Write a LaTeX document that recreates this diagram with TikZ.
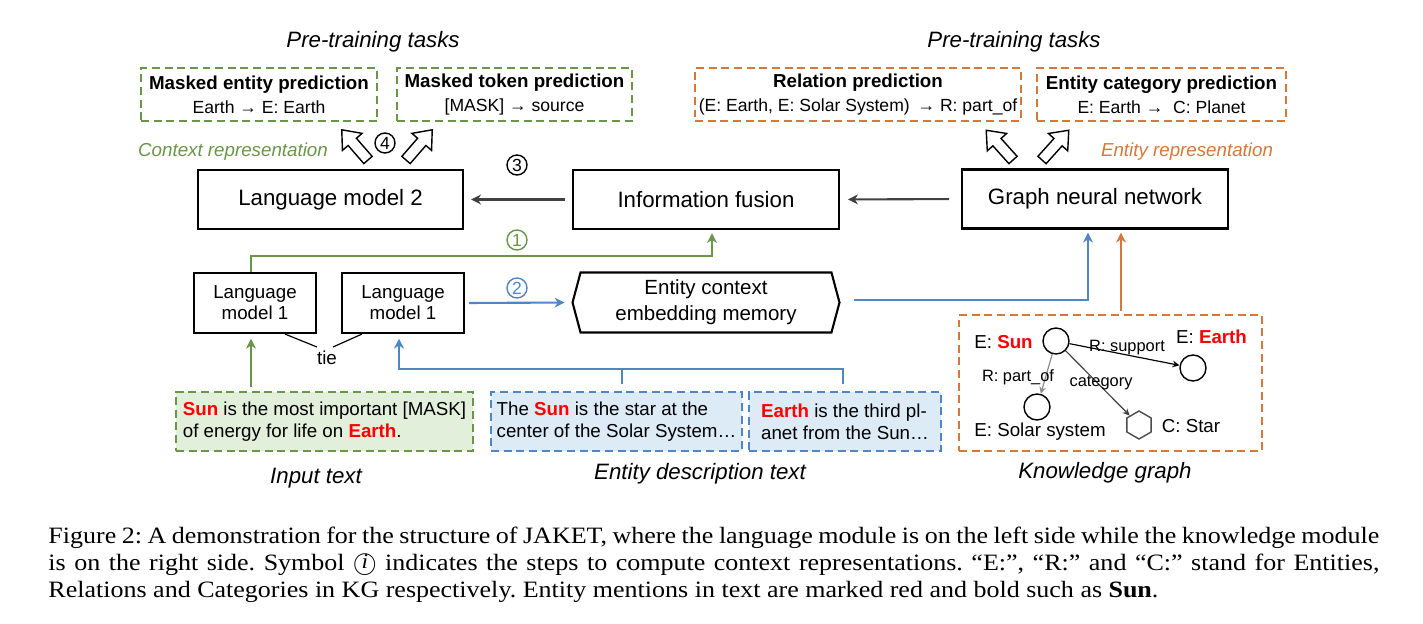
\documentclass[tikz,border=0pt]{standalone}
\usepackage{fontspec}
\setmainfont{Liberation Serif}
\setsansfont{Liberation Sans}
\newfontfamily\capfont{Liberation Serif}[FakeStretch=1.11]
\usetikzlibrary{calc}
\usetikzlibrary{arrows.meta}
\usetikzlibrary{shapes.geometric}
\definecolor{ctxgreen}{RGB}{106,150,72}
\definecolor{entblue}{RGB}{80,135,195}
\definecolor{kgorange}{RGB}{213,121,59}
\definecolor{inputfill}{RGB}{226,239,218}
\definecolor{descfill}{RGB}{221,235,247}
\definecolor{entred}{RGB}{255,0,0}
\definecolor{flowgray}{RGB}{64,64,64}
\newcommand{\PX}{0.015cm}
\newcommand{\Ent}[1]{\textcolor{entred}{\textbf{#1}}}
\newcommand{\BlockArrow}[3]{ % base x, base y, direction
\draw[line width=.6pt, fill=white, rotate around={#3:(#1,#2)}]
  (#1,#2) ++(0,-5.5) -- ++(24,0) -- ++(0,-7.5) -- ++(16,13) -- ++(-16,13) -- ++(0,-7.5) -- ++(-24,0) -- cycle;
}
\newcommand{\StepSymbol}{\ooalign{{\normalsize$\bigcirc$}\cr\hidewidth\raisebox{.2ex}{\small\itshape i}\hidewidth\cr}}

\begin{document}
\begin{tikzpicture}[x=\PX, y=-\PX, font=\sffamily,
>={Stealth[length=4.2pt,width=4.2pt,inset=1.3pt]},
model/.style={draw, line width=.9pt, inner sep=0, align=center, font=\sffamily\fontsize{9.5}{11.4}\selectfont, minimum width=266*\PX, minimum height=59*\PX},
smallmodel/.style={model, font=\sffamily\fontsize{8}{9}\selectfont, minimum width=122*\PX, minimum height=60*\PX},
task/.style={dash pattern=on 3.4pt off 2pt, line width=.7pt, inner sep=0, align=center, font=\sffamily\fontsize{8}{10.2}\selectfont, minimum height=53*\PX},
greentask/.style={task, draw=ctxgreen},
orangetask/.style={task, draw=kgorange},
textbox/.style={dash pattern=on 3.4pt off 2pt, line width=.7pt, inner sep=0, align=left, font=\sffamily\fontsize{8}{9.4}\selectfont, minimum height=59*\PX},
inputbox/.style={textbox, draw=ctxgreen, fill=inputfill},
descbox/.style={textbox, draw=entblue, fill=descfill},
tasktitle/.style={font=\sffamily\itshape\fontsize{9.5}{11.4}\selectfont},
reptext/.style={font=\sffamily\itshape\fontsize{8}{9.6}\selectfont},
stepnum/.style={circle, draw, line width=.6pt, inner sep=0, minimum size=20*\PX, font=\sffamily\fontsize{7.5}{9}\selectfont},
flow/.style={->, line width=.9pt, shorten <=1.7pt, shorten >=1.7pt},
entity/.style={circle, draw, line width=.6pt, inner sep=0, minimum size=26*\PX},
category/.style={regular polygon, regular polygon sides=6, shape border rotate=30, draw=black!70, line width=.6pt, inner sep=0, minimum size=28*\PX},
kglabel/.style={inner sep=0, font=\sffamily\fontsize{8}{9.6}\selectfont},
rellabel/.style={inner sep=0, font=\sffamily\fontsize{7}{8.4}\selectfont},
kgedge/.style={->, >={Stealth[length=3pt,width=2.8pt]}, line width=.5pt},
]
\useasboundingbox (0,0) rectangle (1423,624);
\fill[white] (0,0) rectangle (1423,624);

%%%%%%%%%%%%%%%%%%%%%%%% PRE-TRAINING TASKS %%%%%%%%%%%%%%%%%%%%%%%%%%%
\node[tasktitle] (TasksL) at (373,42) {Pre-training tasks};
\node[tasktitle] (TasksR) at (1014,42) {Pre-training tasks};
\node[greentask, minimum width=236*\PX] (MEP) at (259,94.5) {\textbf{Masked entity prediction}\\{\fontsize{7.5}{10.2}\selectfont Earth → E: Earth}};
\node[greentask, minimum width=235*\PX] (MTP) at (514.5,94.5) {\textbf{Masked token prediction}\\{\fontsize{7.5}{10.2}\selectfont [MASK] → source}};
\node[orangetask, minimum width=326*\PX] (RP) at (858,94.5) {\textbf{Relation prediction}\\{\fontsize{7.5}{10.2}\selectfont (E: Earth, E: Solar System) \,→ R: part\_of}};
\node[orangetask, minimum width=249*\PX] (ECP) at (1161.5,94.5) {\textbf{Entity category prediction}\\{\fontsize{7.5}{10.2}\selectfont E: Earth~→~~C: Planet}};

\BlockArrow{368}{160}{131}
\BlockArrow{406}{160}{49}
\BlockArrow{1013}{160}{132}
\BlockArrow{1042}{160}{48}

\node[reptext, text=ctxgreen] (CtxRep) at (233,152) {Context representation};
\node[reptext, text=kgorange] (EntRep) at (1187,152) {Entity representation};

%%%%%%%%%%%%%%%%%%%%%%%% MODELS %%%%%%%%%%%%%%%%%%%%%%%%%%%
\node[model, minimum width=265*\PX] (LM2) at (330.5,199.5) {Language model 2};
\node[model] (Fusion) at (706,199.5) {Information fusion};
\node[model] (GNN) at (1095,199) {Graph neural network};
\node[smallmodel] (LMa) at (255,303) {Language\\model 1};
\node[smallmodel] (LMb) at (403,303) {Language\\model 1};
\node[inner sep=0, align=center, minimum width=266*\PX, minimum height=59*\PX, font=\sffamily\fontsize{8.75}{11.1}\selectfont] (Memory) at (706,302.5) {Entity context\\embedding memory};
\draw[line width=.9pt] (Memory.west) -- ($(Memory.north west)+(8,0)$) -- ($(Memory.north east)+(-8,0)$) -- (Memory.east) -- ($(Memory.south east)+(-8,0)$) -- ($(Memory.south west)+(8,0)$) -- cycle;

\node[stepnum] (Step4) at (385,143) {4};
\node[stepnum] (Step3) at (517,165) {3};
\node[stepnum, draw=ctxgreen, text=ctxgreen] (Step1) at (517,240) {1};
\node[stepnum, draw=entblue, text=entblue] (Step2) at (517,288) {2};

\draw[flow, flowgray, shorten <=5pt, shorten >=3.4pt] (GNN.west) -- (Fusion.east);
\draw[flow, flowgray, shorten <=3pt, shorten >=3pt] (Fusion.west) -- (LM2.east);

%%%%%%%%%%%%%%%%%%%%%%%% TEXTS %%%%%%%%%%%%%%%%%%%%%%%%%%%
\node[inputbox, minimum width=297*\PX] (InText) at (324.5,421.5) {\Ent{Sun} is the most important [MASK]\\of energy for life on \Ent{Earth}.};
\node[descbox, minimum width=251*\PX] (DescA) at (616.5,421.5) {The \Ent{Sun} is the star at the\\center of the Solar System…};
\node[descbox, minimum width=192*\PX] (DescB) at (845,421.5) {\Ent{Earth} is the third pl-\\anet from the Sun…};

\node[tasktitle] (InputL) at (316,478) {Input text};
\node[tasktitle] (DescL) at (700,474) {Entity description text};
\node[tasktitle] (KGL) at (1105,473) {Knowledge graph};

%%%%%%%%%%%%%%%%%%%%%%%% CONNECTIONS %%%%%%%%%%%%%%%%%%%%%%%%%%%
\coordinate (GreenBend) at (251,256);
\draw[flow, ctxgreen, shorten <=0pt, shorten >=1.3pt] (GreenBend |- LMa.north) -- (GreenBend) -| ($(Fusion.south)+(6,0)$);
\draw[flow, ctxgreen, shorten >=2pt] (GreenBend |- InText.north) -- (GreenBend |- LMa.south);

\draw[flow, entblue, shorten >=3.4pt] (LMb.east) -- (Memory.west);
\coordinate (BlueBend) at (1088,300);
\draw[flow, entblue, shorten <=6pt, shorten >=1.3pt] (Memory.east |- BlueBend) -- (BlueBend) -- (BlueBend |- GNN.south);

\coordinate (DescJoin) at (843,369);
\coordinate (DescMid) at (622,369);
\coordinate (LMbIn) at (399,369);
\draw[flow, entblue, shorten <=3pt, shorten >=2pt] (DescJoin |- DescB.north) -- (DescJoin) -- (LMbIn) -- (LMbIn |- LMb.south);
\draw[line width=.9pt, entblue, shorten <=3pt] (DescMid |- DescA.north) -- (DescMid);

\node[kglabel, font=\sffamily\fontsize{8}{9.6}\selectfont] (tie) at (327,358) {tie};
\draw[line width=.5pt] ($(LMa.south)+(30,0)$) -- ($(tie)+(-10,-11)$);
\draw[line width=.5pt] ($(LMb.south)+(-41,0)$) -- ($(tie)+(6,-11)$);

%%%%%%%%%%%%%%%%%%%%%%%% KNOWLEDGE GRAPH %%%%%%%%%%%%%%%%%%%%%%%%%%%
\node[draw=kgorange, dash pattern=on 3.4pt off 2pt, line width=.7pt, minimum width=303*\PX, minimum height=136*\PX] (KG) at (1110.5,383) {};
\coordinate (OrangeUp) at (1121,300);
\draw[flow, kgorange, shorten <=1.5pt, shorten >=1.3pt] (OrangeUp |- KG.north) -- (OrangeUp |- GNN.south);

\node[entity] (Sun) at (1056,341) {};
\node[entity] (Earth) at (1193,368) {};
\node[entity] (Solar) at (1037,407) {};
\node[category] (Star) at (1139,425) {};
\draw[kgedge] (Sun) -- (Earth);
\draw[kgedge, black!45] (Sun) -- (Solar);
\draw[kgedge, black!75] (Sun) -- (Star);

\node[kglabel] (SunL) at (1003.5,342) {E: \Ent{Sun}};
\node[kglabel] (EarthL) at (1211.5,337) {E: \Ent{Earth}};
\node[kglabel] (SolarL) at (1040,432) {E: Solar system};
\node[kglabel] (StarL) at (1191,426) {C: Star};
\node[rellabel] (SupportL) at (1127,348) {R: support};
\node[rellabel] (PartL) at (1018,377) {R: part\_of};
\node[rellabel] (CatL) at (1101,383) {category};

%%%%%%%%%%%%%%%%%%%%%%%% CAPTION %%%%%%%%%%%%%%%%%%%%%%%%%%%
\node[anchor=north west, inner sep=0, align=left, font=\capfont\frenchspacing\fontsize{10}{11.5}\selectfont] (Caption) at (48,527)
{\makebox[568pt][s]{Figure 2: A demonstration for the structure of JAKET, where the language module is on the left side while the knowledge module}\\
\makebox[568pt][s]{is on the right side. Symbol \StepSymbol\ indicates the steps to compute context representations. “E:”, “R:” and “C:” stand for Entities,}\\
Relations and Categories in KG respectively. Entity mentions in text are marked red and bold such as \textbf{Sun}.};

\end{tikzpicture}
\end{document}
